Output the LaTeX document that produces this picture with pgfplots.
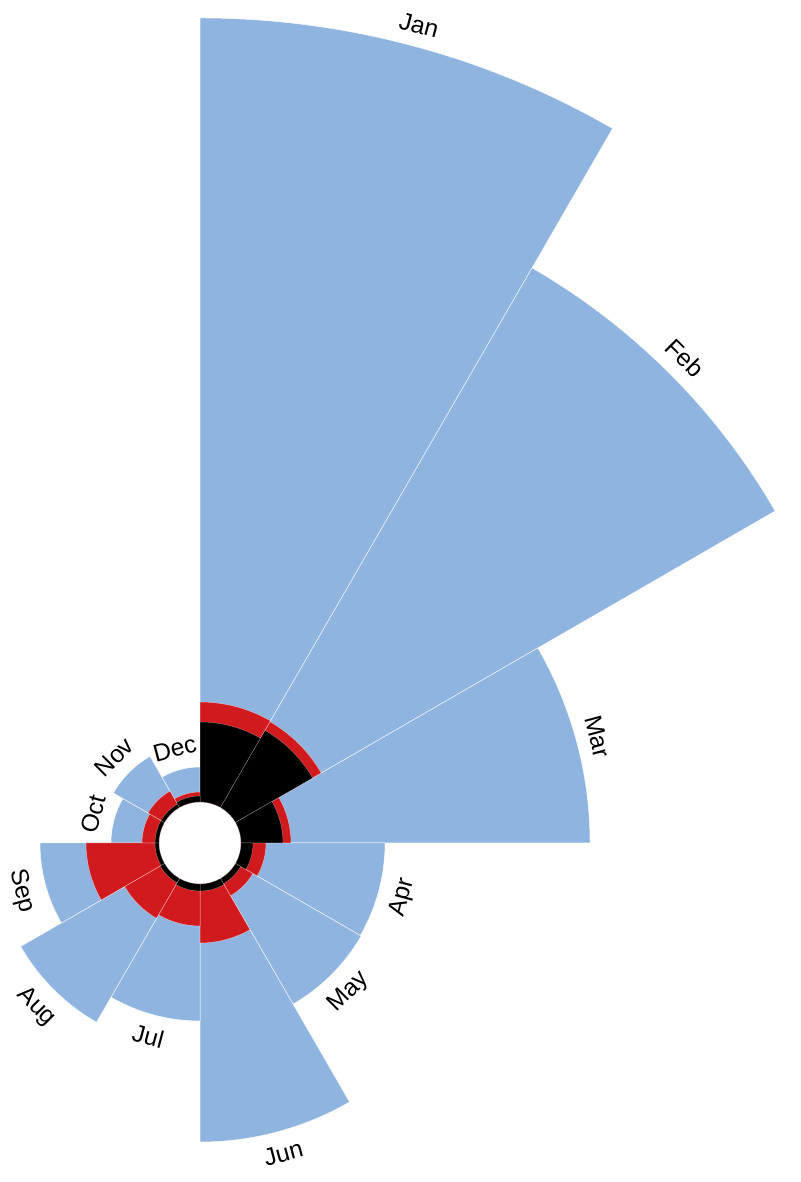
\documentclass[border=0pt]{standalone}
\usepackage{pgfplots}
\pgfplotsset{compat=1.18}
\usepackage{pgfplotstable}
\usepackage{fontspec}
\setmainfont{Liberation Sans}
\definecolor{blueC}{RGB}{143,180,224}
\definecolor{redC}{RGB}{209,26,29}
\definecolor{blackC}{RGB}{0,0,0}

% month, start angle (deg), radii of the three overlaid wedges (px)
\pgfplotstableread{
month start rblack rred rblue
Jan 60 121 141 825
Feb 30 130 140 664
Mar 0 83 91 390
Apr -30 53 66 185
May -60 47 61 186
Jun -90 48 100 299
Jul -120 48 83 178
Aug -150 46 87 207
Sep -180 45 114 160
Oct 150 45 58 89
Nov 120 45 60 100
Dec 90 47 51 76
}\rose

\def\rin{41}
\pgfdeclareplotmark{wedge}{%
  \pgfmathsetmacro\wb{\wa+30}%
  \pgfpathmoveto{\pgfpointpolar{\wa}{\rin pt}}%
  \pgfpatharc{\wa}{\wb}{\rin pt}%
  \pgfpathlineto{\pgfpointpolar{\wb}{\wr pt}}%
  \pgfpatharc{\wb}{\wa}{\wr pt}%
  \pgfpathclose
  \pgfusepathqfillstroke
}

\begin{document}
\begin{tikzpicture}
\begin{axis}[
  x=1pt, y=1pt,
  xmin=-200, xmax=600, ymin=-339, ymax=843,
  hide axis, clip=false,
]
\path (axis cs:-200,-339) rectangle (axis cs:600,843);
\addplot[only marks, mark=wedge,
  visualization depends on={\thisrow{start}\as\wa},
  visualization depends on={\thisrow{rblue}\as\wr},
  mark options={fill=blueC, draw=white, line width=0.5pt, draw opacity=0.8}]
  table[x expr=0, y expr=0] {\rose};
\addplot[only marks, mark=wedge,
  visualization depends on={\thisrow{start}\as\wa},
  visualization depends on={\thisrow{rred}\as\wr},
  mark options={fill=redC, draw=white, line width=0.5pt, draw opacity=0.5}]
  table[x expr=0, y expr=0] {\rose};
\addplot[only marks, mark=wedge,
  visualization depends on={\thisrow{start}\as\wa},
  visualization depends on={\thisrow{rblack}\as\wr},
  mark options={fill=blackC, draw=white, line width=0.5pt, draw opacity=0.35}]
  table[x expr=0, y expr=0] {\rose};
% month labels
\addplot[draw=none, mark=none,
  nodes near coords,
  point meta=explicit symbolic,
  visualization depends on={\thisrow{start}+15+(\thisrow{start}+15>0 ? -90 : 90)\as\rot},
  every node near coord/.append style={anchor=center, rotate=\rot, inner sep=0pt,
    text height=17.5pt, text depth=0pt, font=\fontsize{24.5}{28}\selectfont, text=black},
  ]
  table[x expr={(\thisrow{rblue}+22)*cos(\thisrow{start}+15)},
        y expr={(\thisrow{rblue}+22)*sin(\thisrow{start}+15)},
        meta=month] {\rose};
\end{axis}
\end{tikzpicture}
\end{document}
